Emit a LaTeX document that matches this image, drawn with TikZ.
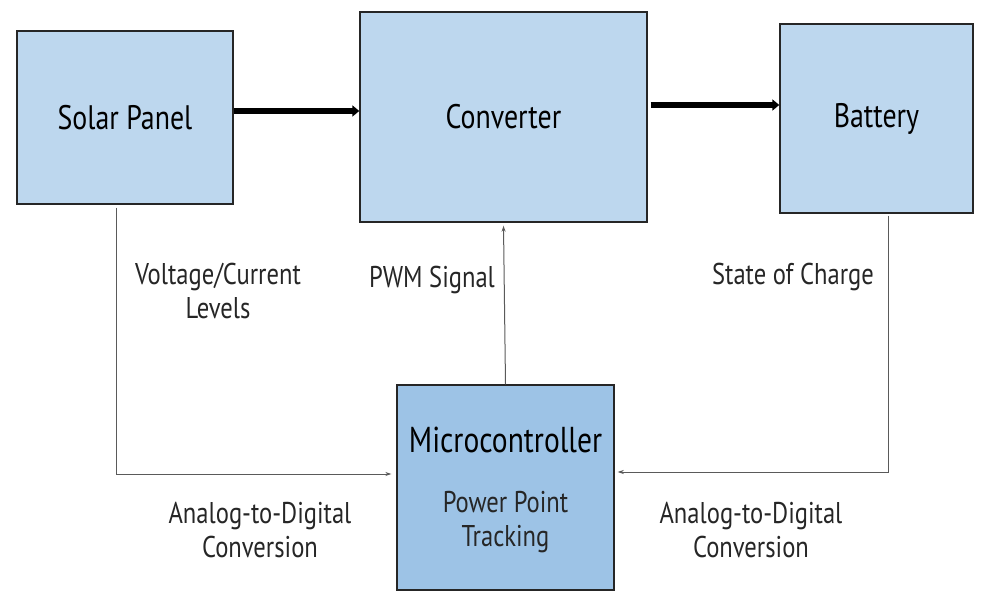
\documentclass[tikz,border=0pt]{standalone}
\usepackage{fontspec}
\setmainfont{PT Sans}[FakeStretch=0.82]
\usetikzlibrary{arrows.meta,calc}
\definecolor{boxfill}{HTML}{BDD7EE}
\definecolor{mcfill}{HTML}{9DC3E6}
\definecolor{thin}{HTML}{5A5A5A}
\begin{document}
\begin{tikzpicture}[x=1pt,y=1pt,
  blk/.style={draw=black!85,line width=1.4pt,fill=boxfill,inner sep=0pt,font=\fontsize{34}{40}\selectfont},
  lbl/.style={align=center,font=\fontsize{30}{34}\selectfont,text=black!85},
  power/.style={line width=5.5pt,-{Triangle[length=7pt,width=11pt]}},
  sig/.style={draw=thin,line width=1pt,-{Stealth[length=6pt,width=4pt]}}]
\useasboundingbox (0,0) rectangle (982,592);
\node[blk,minimum width=216pt,minimum height=173pt] (solar) at (125,474.5) {Solar Panel};
\node[blk,minimum width=287pt,minimum height=210pt] (conv) at (503.5,475) {Converter};
\node[blk,minimum width=193pt,minimum height=189pt] (batt) at (876.5,473.5) {Battery};
\node[blk,fill=mcfill,minimum width=217pt,minimum height=205pt] (micro) at (505.5,104.5) {};
\node[font=\fontsize{36}{42}\selectfont] (mctitle) at (505.5,152) {Microcontroller};
\node[lbl] (mctext) at (505.5,70) {Power Point\\Tracking};
\draw[power] (solar.east |- 0,481) -- (conv.west |- 0,481);
\draw[power] ([xshift=3pt]conv.east |- 0,487) -- (batt.west |- 0,487);
\coordinate (solarout) at ([xshift=-9pt,yshift=-3pt]solar.south);
\coordinate (battout) at ([xshift=11.5pt,yshift=-2pt]batt.south);
\draw[sig] (solarout) |- ([xshift=-5pt,yshift=13.5pt]micro.west);
\draw[sig] (battout) |- ([xshift=3pt,yshift=15.5pt]micro.east);
\draw[sig] (micro.north) -- ([yshift=-3pt]conv.south);
\node[lbl] (vc) at (218,301) {Voltage/Current\\Levels};
\node[lbl] (pwm) at (432,312) {PWM Signal};
\node[lbl] (soc) at (793,315) {State of Charge};
\node[lbl] (adcl) at (260,62) {Analog-to-Digital\\Conversion};
\node[lbl] (adcr) at (751,62) {Analog-to-Digital\\Conversion};
\end{tikzpicture}
\end{document}
